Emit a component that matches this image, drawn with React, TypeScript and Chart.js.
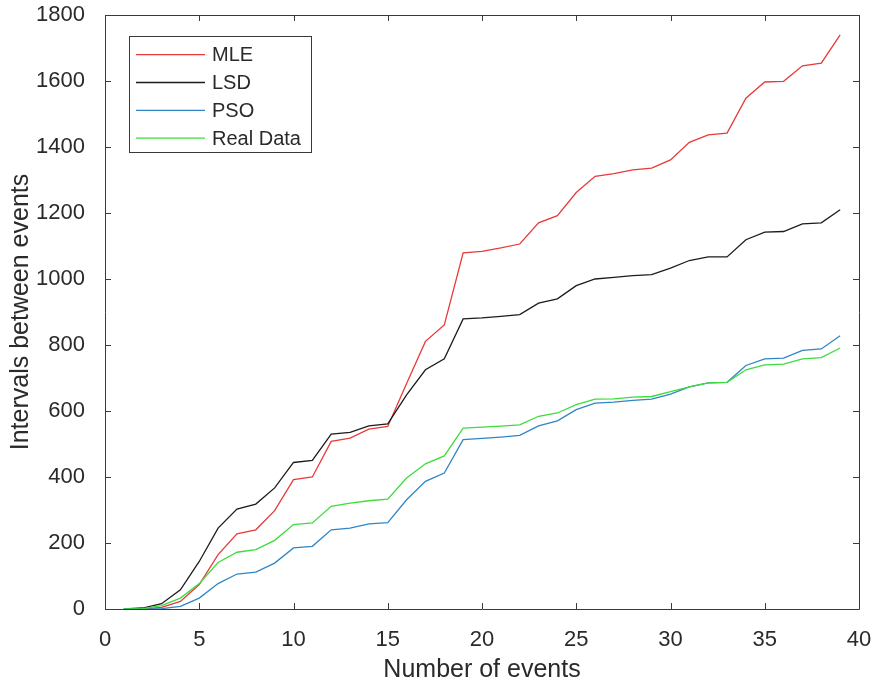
import React, { useEffect, useRef } from "react";
import { Chart, registerables } from "chart.js";

Chart.register(...registerables);

const events = [1, 2, 3, 4, 5, 6, 7, 8, 9, 10, 11, 12, 13, 14, 15, 16, 17, 18, 19, 20, 21, 22, 23, 24, 25, 26, 27, 28, 29, 30, 31, 32, 33, 34, 35, 36, 37, 38, 39];

const mle = [0, 0, 5, 23, 74, 165, 228, 240, 298, 392, 400, 508, 518, 545, 553, 683, 811, 861, 1079, 1084, 1094, 1106, 1170, 1192, 1262, 1311, 1319, 1331, 1336, 1361, 1414, 1437, 1442, 1548, 1597, 1599, 1646, 1654, 1740];

const lsd = [0, 3, 16, 58, 144, 245, 303, 318, 367, 444, 450, 530, 535, 555, 561, 649, 725, 758, 879, 882, 887, 892, 927, 940, 980, 1000, 1005, 1010, 1013, 1033, 1056, 1067, 1067, 1119, 1142, 1144, 1167, 1170, 1210];

const pso = [0, 0, 1, 8, 33, 77, 106, 112, 139, 185, 190, 240, 245, 258, 262, 331, 387, 412, 513, 517, 521, 526, 555, 570, 604, 624, 627, 632, 636, 651, 673, 685, 687, 738, 758, 760, 784, 788, 828];

const realData = [0, 1, 10, 33, 77, 141, 172, 180, 208, 256, 261, 311, 321, 328, 333, 397, 440, 464, 548, 551, 554, 558, 584, 594, 619, 636, 637, 642, 644, 659, 673, 685, 687, 725, 740, 742, 758, 762, 791];

const seriesNames = ["MLE", "LSD", "PSO", "Real Data"];
const seriesColors = ["#e83a3a", "#1c1c1c", "#2f86c4", "#3ddc3d"];

const xTicks = [0, 5, 10, 15, 20, 25, 30, 35, 40];
const yTicks = [0, 200, 400, 600, 800, 1000, 1200, 1400, 1600, 1800];

const FONT = "'Liberation Sans', Arial, Helvetica, sans-serif";
const AXIS_COLOR = "#3a3a3a";
const TEXT_COLOR = "#2a2a2a";

const boxPlugin = {
  id: "matlabBox",
  afterDatasetsDraw(chart: any) {
    const { ctx, chartArea } = chart;
    const { left, right, top, bottom } = chartArea;
    const xs = chart.scales.x;
    const ys = chart.scales.y;
    const tl = 6;
    ctx.save();
    ctx.strokeStyle = AXIS_COLOR;
    ctx.lineWidth = 1;
    ctx.beginPath();
    ctx.rect(Math.round(left) + 0.5, Math.round(top) + 0.5, Math.round(right - left), Math.round(bottom - top));
    ctx.stroke();
    ctx.beginPath();
    for (const v of xTicks) {
      const px = Math.round(xs.getPixelForValue(v)) + 0.5;
      ctx.moveTo(px, bottom);
      ctx.lineTo(px, bottom - tl);
      ctx.moveTo(px, top);
      ctx.lineTo(px, top + tl);
    }
    for (const v of yTicks) {
      const py = Math.round(ys.getPixelForValue(v)) + 0.5;
      ctx.moveTo(left, py);
      ctx.lineTo(left + tl, py);
      ctx.moveTo(right, py);
      ctx.lineTo(right - tl, py);
    }
    ctx.stroke();

    // legend
    const bx = 129.5, by = 36.5, bw = 182, bh = 116;
    ctx.fillStyle = "#ffffff";
    ctx.fillRect(bx, by, bw, bh);
    ctx.strokeStyle = AXIS_COLOR;
    ctx.strokeRect(bx, by, bw, bh);
    const rows = [54.7, 82.5, 110.3, 138.1];
    ctx.font = `20px ${FONT}`;
    ctx.textBaseline = "middle";
    ctx.textAlign = "left";
    chart.data.datasets.forEach((ds: any, i: number) => {
      const y = rows[i];
      ctx.strokeStyle = ds.borderColor;
      ctx.lineWidth = 1.3;
      ctx.beginPath();
      ctx.moveTo(136, y);
      ctx.lineTo(205, y);
      ctx.stroke();
      ctx.fillStyle = TEXT_COLOR;
      ctx.fillText(ds.label, 212, y + 1);
    });
    ctx.restore();
  },
};

export default function App() {
  const ref = useRef<HTMLCanvasElement | null>(null);
  useEffect(() => {
    if (!ref.current) return;
    const seriesValues = [mle, lsd, pso, realData];
    const chart = new Chart(ref.current, {
      type: "line",
      data: {
        datasets: seriesValues.map((vals, i) => ({
          label: seriesNames[i],
          data: events.map((e, j) => ({ x: e, y: vals[j] })),
          borderColor: seriesColors[i],
          backgroundColor: seriesColors[i],
          borderWidth: 1.3,
          pointRadius: 0,
          tension: 0,
          fill: false,
          order: 4 - i,
        })),
      },
      options: {
        animation: false,
        responsive: false,
        devicePixelRatio: 1,
        layout: { padding: { top: 15, right: 15, left: 0, bottom: 0 } },
        plugins: {
          legend: { display: false },
          tooltip: { enabled: false },
        },
        scales: {
          x: {
            type: "linear",
            min: 0,
            max: 40,
            grid: { display: false },
            border: { display: false },
            afterBuildTicks: (s: any) => {
              s.ticks = xTicks.map((v) => ({ value: v }));
            },
            afterFit: (s: any) => {
              s.height = 79;
              s.paddingLeft = 0;
              s.paddingRight = 0;
            },
            ticks: {
              color: TEXT_COLOR,
              font: { family: FONT, size: 22 },
              padding: 10,
              maxRotation: 0,
              callback: (v: any) => String(v),
            },
            title: {
              display: true,
              text: "Number of events",
              color: TEXT_COLOR,
              font: { family: FONT, size: 25 },
              padding: { top: 0, bottom: 3 },
            },
          },
          y: {
            type: "linear",
            min: 0,
            max: 1800,
            grid: { display: false },
            border: { display: false },
            afterBuildTicks: (s: any) => {
              s.ticks = yTicks.map((v) => ({ value: v }));
            },
            afterFit: (s: any) => {
              s.width = 105;
              s.paddingTop = 0;
              s.paddingBottom = 0;
            },
            ticks: {
              color: TEXT_COLOR,
              font: { family: FONT, size: 22 },
              padding: 12,
              callback: (v: any) => String(v),
            },
            title: {
              display: true,
              text: "Intervals between events",
              color: TEXT_COLOR,
              font: { family: FONT, size: 25 },
              padding: { top: 6, bottom: 0 },
            },
          },
        },
      },
      plugins: [boxPlugin],
    } as any);
    return () => chart.destroy();
  }, []);
  return (
    <div style={{ position: "fixed", left: 0, top: 0, width: 874, height: 688, background: "#fff" }}>
      <canvas ref={ref} width={874} height={688} style={{ display: "block" }} />
    </div>
  );
}
